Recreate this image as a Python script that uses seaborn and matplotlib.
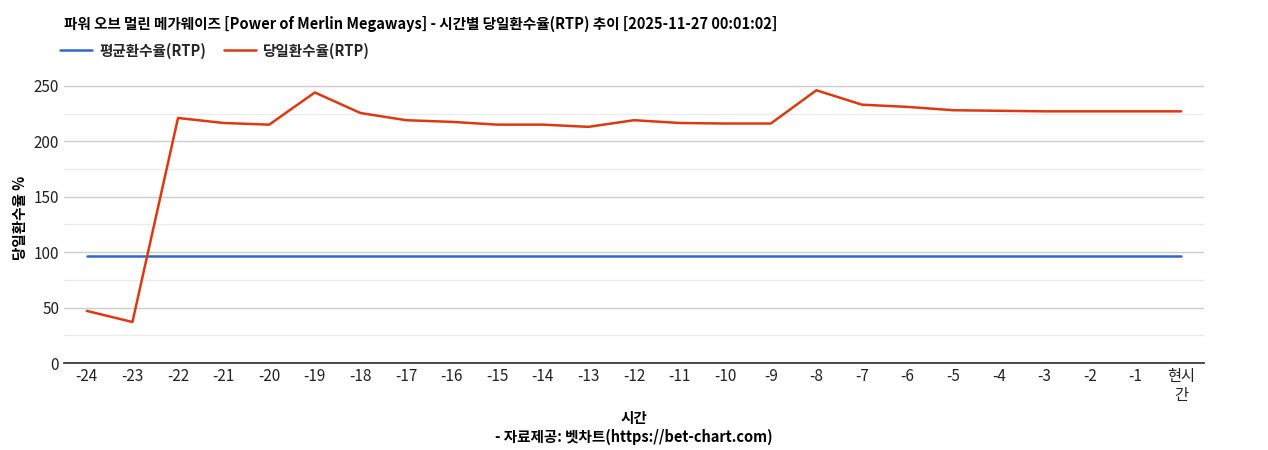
import matplotlib
matplotlib.use("Agg")
import matplotlib.pyplot as plt
import seaborn as sns
import pandas as pd

labels = ["-24","-23","-22","-21","-20","-19","-18","-17","-16","-15","-14","-13","-12","-11","-10","-9","-8","-7","-6","-5","-4","-3","-2","-1","현시\n간"]
daily = [47,37,221,216.5,215,244,225.5,219,217.5,215,215,213,219,216.5,216,216,246,233,231,228,227.5,227,227,227,227]
avg = [96.6]*25

sns.set_theme(style="white")
plt.rcParams['font.family'] = ['Noto Sans CJK KR', 'DejaVu Sans']

df = pd.DataFrame({"x": range(len(labels)), "daily": daily, "avg": avg})
fig = plt.figure(figsize=(12.68, 4.5), dpi=100)
ax = fig.add_axes([0.0505, 0.1933, 0.899, 0.647])
for y in range(25, 275, 25):
    ax.axhline(y, color="#cccccc" if y % 50 == 0 else "#ebebeb", lw=1, zorder=0)
sns.lineplot(data=df, x="x", y="avg", ax=ax, color="#3366cc", lw=1.8, label="평균환수율(RTP)")
sns.lineplot(data=df, x="x", y="daily", ax=ax, color="#dc3912", lw=1.8, label="당일환수율(RTP)")
ax.set_xlim(-0.5, 24.5)
ax.set_ylim(0, 262.6)
ax.set_yticks([0, 50, 100, 150, 200, 250])
ax.set_xticks(range(len(labels)))
ax.set_xticklabels(labels, fontsize=11)
ax.tick_params(axis='y', labelsize=11, length=0, colors="#222222")
ax.tick_params(axis='x', length=0, colors="#222222")
for s in ["top", "right", "left"]:
    ax.spines[s].set_visible(False)
ax.spines["bottom"].set_color("#333333")
ax.set_xlabel("시간\n- 자료제공: 벳차트(https://bet-chart.com)", fontsize=10.5, fontweight="bold", color="black")
ax.set_ylabel("당일환수율 %", fontsize=10.5, fontweight="bold", color="black")
ax.legend(loc="lower left", bbox_to_anchor=(-0.015, 1.0), ncol=2, frameon=False,
          prop={"weight": "bold", "size": 10.5}, handlelength=2.2, handletextpad=0.5, columnspacing=1.2)
fig.text(0.0505, 0.93, "파워 오브 멀린 메가웨이즈 [Power of Merlin Megaways] - 시간별 당일환수율(RTP) 추이 [2025-11-27 00:01:02]",
         fontsize=10.5, fontweight="bold", va="bottom", color="black")
fig.savefig("out.png", dpi=100)
